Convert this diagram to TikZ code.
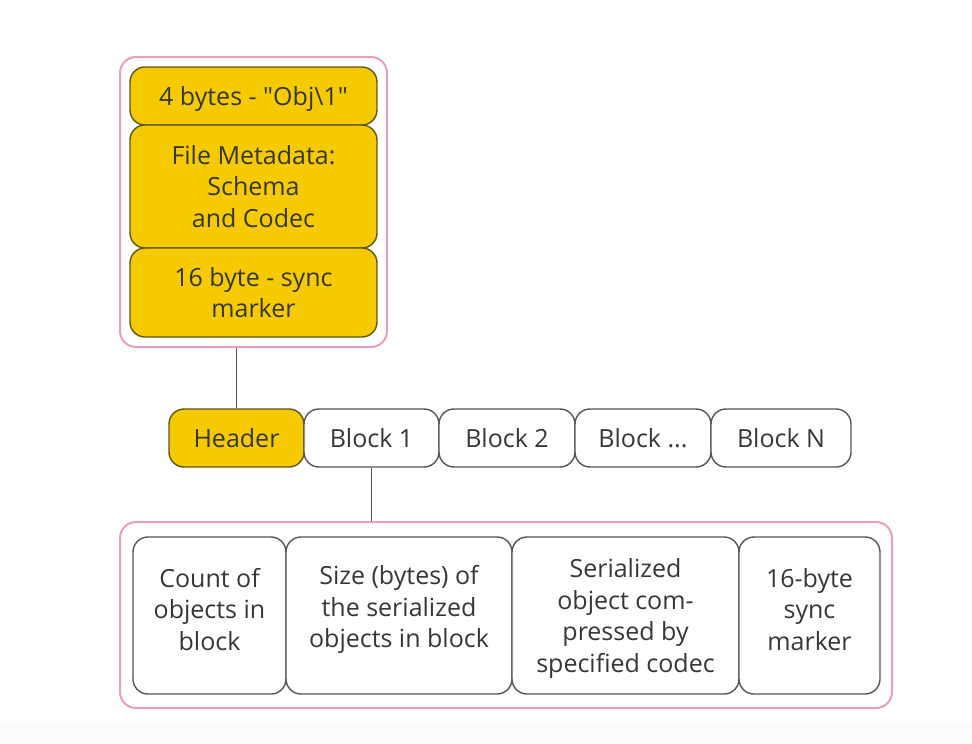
\documentclass[tikz,border=0pt]{standalone}
\usepackage{fontspec}
\setmainfont{Open Sans}
\definecolor{yel}{RGB}{245,202,0}
\definecolor{pinkb}{RGB}{232,160,178}
\definecolor{edge}{RGB}{85,85,85}
\definecolor{yedge}{RGB}{95,85,30}
\definecolor{txt}{RGB}{55,55,55}
\tikzset{
  every node/.style={font=\fontsize{25}{31.5}\selectfont, text=txt, align=center, inner sep=0pt},
  ybox/.style={draw=yedge, line width=1.4pt, fill=yel, rounded corners=15pt},
  wbox/.style={draw=edge, line width=1.4pt, fill=white, rounded corners=15pt},
  outer/.style={draw=pinkb, line width=2pt, rounded corners=16pt},
  conn/.style={draw=edge, line width=1.4pt},
}
\newcommand{\boxat}[6]{% name, style, x1, y1, x2, y2
  \node[#2, minimum width={#5-#3}, minimum height={#6-#4}] (#1) at ({(#3+#5)/2},{(#4+#6)/2}) {};}
\begin{document}
\begin{tikzpicture}[x=1pt,y=-1pt]
\useasboundingbox (0,0) rectangle (972,744);
\fill[gray!3] (0,722) rectangle (972,744);
% top stack
\boxat{topbox}{outer}{120}{57}{387}{347}
\boxat{magic}{ybox}{130}{67}{377}{125}
\boxat{meta}{ybox}{130}{125}{377}{248}
\boxat{sync}{ybox}{130}{248}{377}{337}
\node at ([yshift=-3pt]magic.center) {4 bytes - \textquotedbl Obj\textbackslash 1\textquotedbl};
\node at (meta.center) {File Metadata:\\Schema\\and Codec};
\node at (sync.center) {16 byte - sync\\marker};
% row
\boxat{header}{ybox}{169}{409}{304}{467}
\boxat{b1}{wbox}{304}{409}{439}{467}
\boxat{b2}{wbox}{439}{409}{575}{467}
\boxat{b3}{wbox}{575}{409}{711}{467}
\boxat{bn}{wbox}{711}{409}{851}{467}
\node at (header.center) {Header};
\node at (b1.center) {Block 1};
\node at (b2.center) {Block 2};
\node at (b3.center) {Block ...};
\node at (bn.center) {Block N};
% bottom
\boxat{botbox}{outer}{120}{522}{892}{708}
\boxat{c1}{wbox}{133}{537}{286}{694}
\boxat{c2}{wbox}{286}{537}{512}{694}
\boxat{c3}{wbox}{512}{537}{739}{694}
\boxat{c4}{wbox}{739}{537}{880}{694}
\node at ([yshift=6pt]c1.center) {Count of\\objects in\\block};
\node at ([yshift=6pt]c2.center) {Size (bytes) of\\the serialized\\objects in block};
\node at ([yshift=-3pt]c3.center) {Serialized\\object com-\\pressed by\\specified codec};
\node at ([yshift=6pt]c4.center) {16-byte\\sync\\marker};
% connectors
\draw[conn] (header.north) -- (header.north |- topbox.south);
\draw[conn] (b1.south) -- (b1.south |- botbox.north);
\end{tikzpicture}
\end{document}
